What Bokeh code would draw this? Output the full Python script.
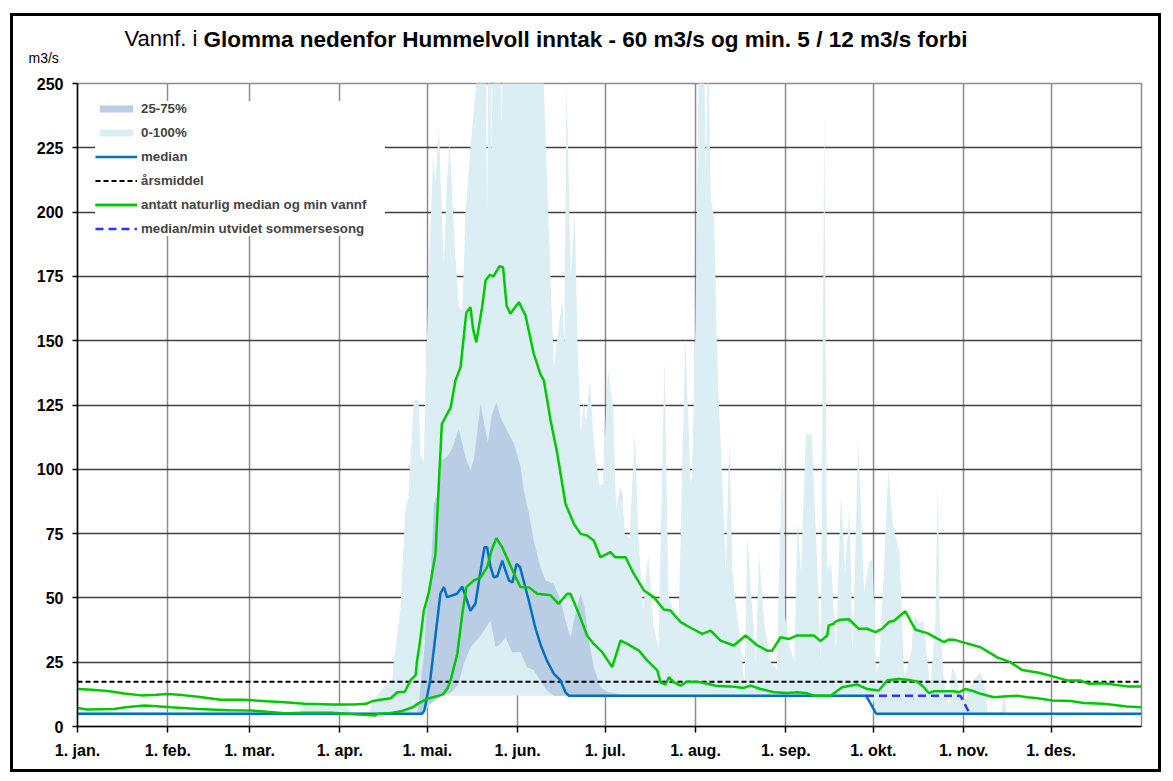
import numpy as np
from bokeh.plotting import figure
from bokeh.models import Range1d, FixedTicker, Title, Legend, LegendItem
from bokeh.embed import file_html
from bokeh.resources import INLINE

# ---------------- data ----------------
# x = day of year (0 = 1. jan.)
month_days = [0, 31, 59, 90, 120, 151, 181, 212, 243, 273, 304, 334]
month_labels = ["1. jan.", "1. feb.", "1. mar.", "1. apr.", "1. mai.", "1. jun.",
                "1. jul.", "1. aug.", "1. sep.", "1. okt.", "1. nov.", "1. des."]
y_ticks = list(range(0, 251, 25))
year_span = [0, 365]
arsmiddel = 17.4

# 0-100 % band (max upper edge; values above 250 are cut by the axis)
max_days = [0, 76, 78, 85, 92, 94, 100, 101.5, 104, 106, 107.9, 108.5, 110.8, 112.5, 113.5,
            115.4, 117, 117.7, 118.8, 119.4, 121.1, 122, 122.8, 124, 125, 125.7, 126.8, 127.7,
            129.1, 130.8, 132, 133.1, 134.8, 136.5, 137.1, 140, 140.5, 141, 141.8, 142, 142.4,
            145, 145.5, 146, 159.5, 161, 162.3, 163.4, 166.3, 167, 167.8, 169.2, 170.6, 171.5,
            172.7, 173.6, 174.4, 175.8, 177.3, 179, 180.2, 182, 183.7, 184.8, 186, 187, 187.7,
            189.4, 191.2, 192.3, 194, 195.8, 197.5, 199.3, 201.4, 202.7, 204.5, 206.2, 208.5,
            210.3, 210.8, 212, 213.2, 214.9, 215.5, 216.4, 217.2, 218.4, 219.5, 221.3, 222.4,
            223.6, 224.7, 227, 228.8, 229.8, 231.5, 232.7, 233.8, 235.6, 237.8, 239.9, 241,
            241.9, 242.7, 244.1, 245.9, 247, 248.2, 249.9, 251.1, 251.8, 253.3, 255, 256.2,
            257.1, 258.5, 260.2, 261.9, 263.3, 264.8, 265.9, 267.8, 269.9, 271.6, 272.8, 273.9,
            275, 276.8, 278.2, 279.7, 282, 283.6, 286, 287.1, 288.8, 290.1, 291.5, 292.6, 294.3,
            295.1, 295.8, 297.2, 298.9, 300, 301.2, 302.9, 304.6, 306.3, 308, 309.8, 311.5,
            312.1, 317, 317.8, 318.7, 365]
max_vals = [5.5, 5.5, 8, 8.5, 8.8, 5.5, 5.5, 10, 14, 17, 16.6, 25, 46, 85, 89,
            127, 127, 105, 103, 134, 195, 221, 212, 233, 198, 180, 213, 227,
            193, 163, 162, 199, 225, 246, 265, 265, 200, 265, 265, 221, 265,
            265, 233, 265, 265, 214, 173, 140, 166, 149, 250, 175, 200, 149,
            114, 126, 119, 134, 108, 94, 94, 139, 124, 84, 93, 91, 75,
            73, 114, 76, 45, 67, 40, 30, 143, 51, 45, 40, 151,
            95, 97, 156, 265, 265, 215, 265, 207, 197, 140, 92, 60,
            111, 60, 36, 17, 74, 45, 25, 67, 40, 25, 22, 72,
            111, 43, 32, 25, 79, 60, 114, 113, 114, 76, 25, 240,
            60, 64, 29, 91, 60, 84, 29, 111, 52, 64, 65, 21,
            24, 65, 100, 78, 68, 19, 29, 43, 40, 41, 26, 15, 41,
            94, 41, 18, 8, 23, 20.5, 11, 10, 16, 19, 21, 15,
            5.5, 5.5, 15, 5, 5]
min_days = [0, 119, 122, 272, 275, 365]
min_vals = [5, 5, 12, 12, 5, 5]

# 25-75 % band
p75_days = [0, 116.5, 117, 119, 120, 121.1, 122.3, 124, 125, 126.8, 128.5, 130.8, 133.1, 134.8,
            136, 138.3, 139.5, 140.8, 142.2, 143.7, 145.1, 147.4, 149.7, 152, 153.1, 154.8,
            156.5, 158.8, 160.5, 163.4, 165.7, 167.4, 169.1, 170.8, 172.6, 174, 175.4, 177.1,
            179.4, 181.7, 186, 189.4, 272, 275, 365]
p75_vals = [5, 5, 8.6, 30, 51.6, 57, 86.6, 91.8, 103.4, 105, 108, 115.7, 104.7, 99.5,
            104, 125.5, 117.7, 110.5, 121.5, 126, 120, 115, 110, 100.8, 91.8, 83,
            72.3, 62, 56.8, 55.5, 49, 41.2, 34.7, 43.8, 51.6, 46, 33.4, 23,
            15.3, 13.5, 12.5, 12, 12, 5, 5]
p25_days = [0, 118, 120, 125, 128, 130.6, 132.5, 134.8, 138.3, 141.7, 143.4, 145, 146.8,
            149.1, 152, 154.2, 156.5, 158.8, 161, 163.4, 272, 275, 365]
p25_vals = [5, 5, 8, 12, 13, 16, 24.4, 30.8, 35.4, 41.2, 30.8, 32, 34.7,
            28.9, 29, 23, 22, 17.9, 14, 12, 12, 5, 5]

# median
median_days = [0, 118.2, 119, 121, 124.5, 125.7, 126.8, 130.2, 132, 133, 134.8, 136.5, 138.3,
               139.6, 140.5, 141.7, 142.8, 144, 145.7, 147, 148, 149.2, 150.6, 151.8, 153,
               154.8, 157, 158.8, 161, 163.4, 165.7, 167.4, 168.5, 270.5, 274, 365]
median_vals = [5, 5, 6.2, 18, 51.7, 54.2, 50.3, 51.6, 54.4, 51, 45, 47.8, 60.7,
               69.7, 69.7, 62, 58, 58.4, 64.5, 60, 56.8, 56, 63.2, 62, 56.8,
               49, 38.6, 32, 25.7, 20.5, 17.9, 13.3, 12, 12, 5, 5]

# median/min utvidet sommersesong
ext_days = [270.5, 302.9, 305.8]
ext_vals = [12, 12, 5.5]

# antatt naturlig median
nat_days = [0, 5, 11, 16, 21.8, 27, 31, 36, 41.4, 49, 57, 65, 71, 78, 88, 95, 99, 101, 104,
            107.5, 109.7, 112.3, 114.2, 116, 116.5, 117.5, 118.8, 120.5, 122.8, 124, 125, 128,
            129.7, 131.4, 133.4, 134.8, 135.7, 136.8, 138.8, 140, 141.4, 142.7, 144.8, 146,
            147.2, 148.5, 151.4, 153.7, 156.5, 158.8, 160, 162.3, 164.6, 167.4, 170.3, 172.6,
            174.9, 177.1, 179.4, 182.8, 184.5, 188, 190.8, 194.3, 197.7, 201.1, 203.4, 206.9,
            210.3, 214.3, 217.2, 220.6, 225.1, 229.2, 233.2, 236.6, 238.3, 241.2, 244, 246.9,
            250.4, 252.6, 254.9, 257.2, 257.7, 259.4, 260, 261.7, 264.6, 268, 270.8, 273.8,
            276, 278.3, 280, 284, 287.5, 291.5, 297.2, 298.9, 301.2, 303.5, 309.8, 315.5,
            320, 324, 329.8, 335.5, 339.5, 344, 347, 352, 360, 365]
nat_vals = [14.6, 14.3, 13.7, 12.8, 12.1, 12.3, 12.6, 12.2, 11.6, 10.4, 10.4, 9.8, 9.4, 8.8,
            8.6, 8.6, 8.8, 9.8, 10.4, 11, 13.3, 13.5, 17.9, 20, 25.7, 33, 45, 52, 67, 95.6,
            117.7, 124, 134.7, 139.7, 161, 163, 154.6, 149.4, 163, 173.4, 175.6, 175, 179,
            178.5, 163.7, 160.5, 165, 159.8, 145, 137, 134.5, 119, 106, 86.6, 78.8, 74.9,
            74.2, 72.3, 65.8, 67.8, 65.8, 65.8, 59.4, 52.9, 50.3, 45.5, 45.1, 40.6,
            38.4, 36, 37.3, 33.4, 31.5, 35.4, 31.5, 29.5, 29.5, 34.7, 34, 35.4,
            35.4, 35.4, 33.2, 35.4, 39.3, 39.9, 40.8, 41.5, 41.7, 38, 38, 36.7,
            38, 40.6, 41, 44.8, 37.6, 36.3, 32.8, 33.8, 33.6, 32.8, 30.8, 26.9,
            25, 22, 20.9, 19.2, 17.9, 17.9, 16.6, 16.8, 15.6, 15.6]

# antatt naturlig min vannføring
natmin_days = [0, 3.4, 12.6, 16.5, 23, 27, 32, 41.4, 52, 59.5, 65, 71, 78, 87, 92, 97.8, 101,
               102.2, 103.4, 107, 111, 115, 117, 120, 124, 125.4, 127, 128, 130.3, 132, 133.4,
               136, 138.3, 140.5, 142.2, 143.7, 145.7, 148, 150.3, 152, 155, 157.7, 162.3, 165,
               168, 169.1, 172, 174.8, 177.1, 180, 183.4, 186.3, 188.6, 192.6, 195.4, 198.9,
               200, 201.7, 202.9, 204.6, 206.9, 209.2, 213.8, 217.2, 219.4, 224, 228.6, 230.9,
               234.3, 238.9, 243.5, 247, 250.4, 252.6, 258.4, 262.3, 267.5, 270.8, 274.9,
               277.8, 281.8, 284.6, 288, 290.3, 292, 293.8, 300.6, 302.3, 304.6, 307.5, 309.8,
               314.4, 317.8, 322.4, 325.8, 329.3, 334.4, 340.7, 345.2, 352, 360, 365]
natmin_vals = [7.2, 6.6, 6.8, 7.5, 8.2, 7.9, 7.5, 6.8, 6.3, 6.2, 5.7, 5.2, 5.3, 5.3, 5.0, 4.6,
               4.4, 4.3, 5.0, 5.2, 5.9, 7.5, 9, 10.8, 12, 12.5, 15, 18, 28.3, 43.8, 54.2,
               56.8, 58, 61.9, 69.1, 73.2, 69.7, 63.9, 58, 54.2, 54, 51.6, 51, 47.7,
               51.6, 51.6, 43.8, 35.4, 32.1, 28.9, 23.1, 33.4, 32.1, 29.5, 25.7, 21.8,
               17.2, 16.3, 19.2, 17.2, 15.9, 17.5, 17.2, 16.3, 15.7, 15.6, 15, 15.9,
               14.6, 13.3, 13, 13.3, 12.9, 12, 12, 15.3, 16.3, 14.6, 14,
               18, 18.5, 18.2, 17.5, 15.3, 13, 13.7, 13.7, 13.3, 14.6, 13.7, 12.7,
               11.4, 11.7, 12, 11.4, 11, 10.1, 9.9, 9.1, 8.8, 7.8, 7.5]

title_plain = "Vannf. i"
title_bold = "Glomma nedenfor Hummelvoll inntak -  60 m3/s og min. 5 / 12 m3/s forbi"
unit_label = "m3/s"

# ---------------- figure ----------------
FONT = "Liberation Sans"
FR_W, FR_H = 1064, 643
B_LEFT, B_TOP, B_RIGHT, B_BOTTOM = 64, 67, 23, 49
p = figure(width=B_LEFT + FR_W + B_RIGHT, height=B_TOP + FR_H + B_BOTTOM,
           x_range=Range1d(0, 365), y_range=Range1d(0, 250),
           output_backend="svg", toolbar_location=None,
           min_border_left=B_LEFT, min_border_right=B_RIGHT,
           min_border_top=B_TOP, min_border_bottom=B_BOTTOM)
p.styles = {"border": "3px solid black", "margin": "13px 0px 0px 10px"}
p.background_fill_color = "white"
p.border_fill_color = "white"
p.outline_line_color = "#8c8c8c"
p.outline_line_width = 1.5

p.xaxis.ticker = FixedTicker(ticks=month_days)
p.xaxis.major_label_overrides = {d: l for d, l in zip(month_days, month_labels)}
p.yaxis.ticker = FixedTicker(ticks=y_ticks)
for ax in (p.xaxis, p.yaxis):
    ax.axis_line_color = "black"
    ax.axis_line_width = 1.5
    ax.major_tick_line_color = "black"
    ax.major_tick_line_width = 1.5
    ax.minor_tick_line_color = None
    ax.major_label_text_font = FONT
    ax.major_label_text_font_style = "bold"
    ax.major_label_text_font_size = "16px"
    ax.major_label_text_color = "black"
p.xaxis.major_tick_out = 6
p.xaxis.major_tick_in = 0
p.xaxis.major_label_standoff = 9
p.yaxis.major_tick_out = 5
p.yaxis.major_tick_in = 0
p.yaxis.major_label_standoff = 9

p.xgrid.ticker = FixedTicker(ticks=month_days)
p.xgrid.grid_line_color = "#8c8c8c"
p.xgrid.grid_line_width = 1.5
p.ygrid.ticker = FixedTicker(ticks=y_ticks)
p.ygrid.grid_line_color = "#404040"
p.ygrid.grid_line_width = 1.3

LIGHT = "#daeef3"
DARK = "#b9cde5"
r_all = p.patch(max_days + min_days[::-1], max_vals + min_vals[::-1],
                fill_color=LIGHT, line_color=None)
r_iqr = p.patch(p75_days + p25_days[::-1], p75_vals + p25_vals[::-1],
                fill_color=DARK, line_color=None)
r_mean = p.line(year_span, [arsmiddel, arsmiddel], line_color="black", line_width=2,
                line_dash="5 3")
r_med = p.line(median_days, median_vals, line_color="#0070c0", line_width=2.5)
r_ext = p.line(ext_days, ext_vals, line_color="#3333ff", line_width=2.5, line_dash="8 5")
r_nat = p.line(nat_days, nat_vals, line_color="#00c800", line_width=2.5)
r_natmin = p.line(natmin_days, natmin_vals, line_color="#00c800", line_width=2.5)

legend = Legend(items=[
    LegendItem(label="25-75%", renderers=[r_iqr]),
    LegendItem(label="0-100%", renderers=[r_all]),
    LegendItem(label="median", renderers=[r_med]),
    LegendItem(label="årsmiddel", renderers=[r_mean]),
    LegendItem(label="antatt naturlig median og min vannf", renderers=[r_nat, r_natmin]),
    LegendItem(label="median/min utvidet sommersesong", renderers=[r_ext]),
], location="top_left")
legend.margin = 18
legend.padding = 14
legend.spacing = 9
legend.glyph_width = 42
legend.glyph_height = 9
legend.label_height = 14
legend.label_width = 244
legend.label_standoff = 4
legend.label_text_font = FONT
legend.label_text_font_style = "bold"
legend.label_text_font_size = "13.3px"
legend.background_fill_color = "white"
legend.background_fill_alpha = 1.0
legend.border_line_color = None
p.add_layout(legend)

# titles in the panel above the frame (stacked outward from the frame)
t_unit = Title(text=unit_label, align="left", offset=28 - 77, standoff=35,
               text_font=FONT, text_font_size="14px", text_font_style="normal",
               text_color="black")
t_bold = Title(text=title_bold, align="left", offset=203 - 77, standoff=-42,
               text_font=FONT, text_font_size="22.5px", text_font_style="bold",
               text_color="black")
t_plain = Title(text=title_plain, align="left", offset=124 - 77, standoff=-40,
                text_font=FONT, text_font_size="22px", text_font_style="normal",
                text_color="black")
p.add_layout(t_unit, "above")
p.add_layout(t_bold, "above")
p.add_layout(t_plain, "above")

open("out.html", "w").write(file_html(p, INLINE))
